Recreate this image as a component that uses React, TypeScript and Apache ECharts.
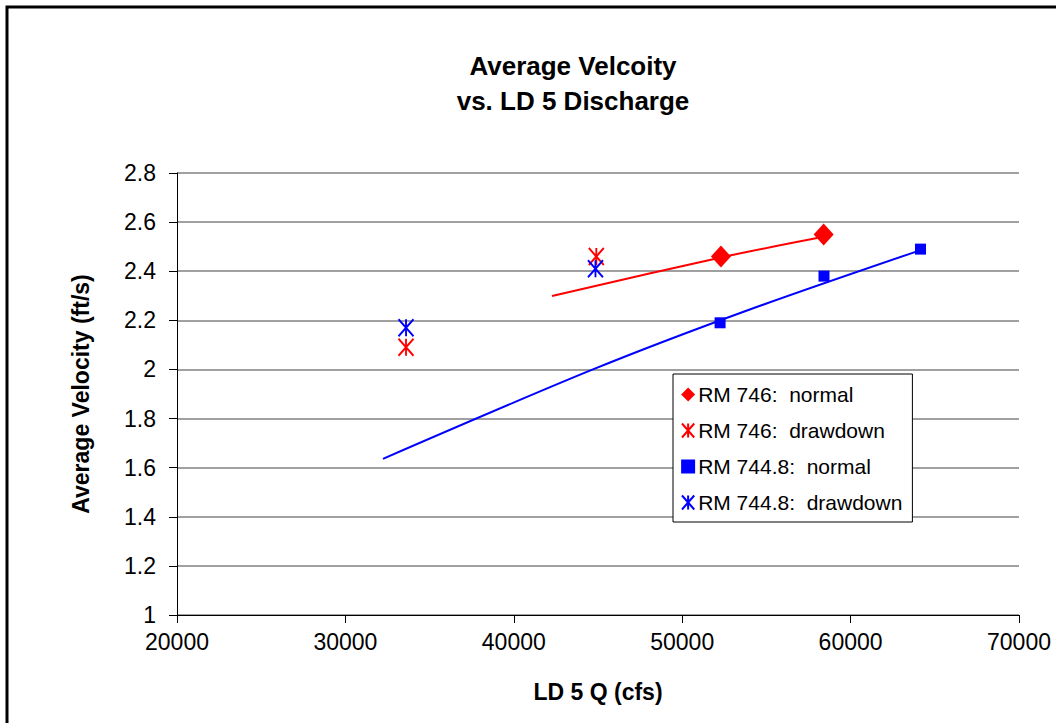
import React, { useEffect, useRef } from "react";
import * as echarts from "echarts";

// Discharge (cfs) and average velocity (ft/s) observations
const rm746NormalQ = [52300, 58400];
const rm746NormalV = [2.46, 2.55];
const rm746DrawdownQ = [33600, 44900];
const rm746DrawdownV = [2.09, 2.46];
const rm7448NormalQ = [52250, 58420, 64150];
const rm7448NormalV = [2.19, 2.38, 2.49];
const rm7448DrawdownQ = [33600, 44850];
const rm7448DrawdownV = [2.17, 2.41];

// Trend lines fitted to the normal-pool observations
const rm746TrendQ = [42270, 52360, 58400];
const rm746TrendV = [2.299, 2.457, 2.54];
const rm7448TrendQ = [32230, 44700, 53850, 63900];
const rm7448TrendV = [1.636, 2.0, 2.24, 2.48];

const xTicks = { min: 20000, max: 70000, interval: 10000 };
const yTicks = { min: 1, max: 2.8, interval: 0.2 };

const legendNames = [
  "RM 746:  normal",
  "RM 746:  drawdown",
  "RM 744.8:  normal",
  "RM 744.8:  drawdown",
];

const RED = "#ff0000";
const BLUE = "#0000ff";
const FONT = "'Liberation Sans', Arial, sans-serif";
const ASTERISK = "path://M0,0L14,16M14,0L0,16M7,0L7,16";

const pairs = (xs: number[], ys: number[]) => xs.map((x, i) => [x, ys[i]]);

export default function App() {
  const ref = useRef<HTMLDivElement>(null);

  useEffect(() => {
    if (!ref.current) return;
    const chart = echarts.init(ref.current, undefined, { renderer: "svg" });

    const trend = (name: string, data: number[][], color: string) => ({
      name,
      type: "line",
      data,
      showSymbol: false,
      symbol: "none",
      smooth: 0.3,
      lineStyle: { color, width: 2 },
      z: 1,
    });

    chart.setOption({
      animation: false,
      backgroundColor: "#ffffff",
      textStyle: { fontFamily: FONT },
      title: {
        text: "Average Velcoity\nvs. LD 5 Discharge",
        left: 568,
        top: 43,
        textAlign: "center",
        textStyle: {
          fontFamily: FONT,
          fontSize: 26,
          fontWeight: "bold",
          color: "#000",
          lineHeight: 35,
        },
      },
      graphic: [
        {
          type: "rect",
          shape: { x: 7, y: 7, width: 1200, height: 900 },
          style: { fill: "none", stroke: "#000", lineWidth: 3 },
          silent: true,
        },
      ],
      grid: { left: 177, top: 173, width: 842, height: 442, containLabel: false },
      xAxis: {
        type: "value",
        min: xTicks.min,
        max: xTicks.max,
        interval: xTicks.interval,
        name: "LD 5 Q (cfs)",
        nameLocation: "middle",
        nameGap: 65,
        nameTextStyle: { fontFamily: FONT, fontSize: 23, fontWeight: "bold", color: "#000" },
        axisLine: { show: true, lineStyle: { color: "#000", width: 1 } },
        axisTick: { show: true, length: 8, lineStyle: { color: "#000", width: 1 } },
        axisLabel: {
          fontFamily: FONT,
          fontSize: 23,
          color: "#000",
          margin: 15,
          formatter: (v: number) => String(v),
        },
        splitLine: { show: false },
      },
      yAxis: {
        type: "value",
        min: yTicks.min,
        max: yTicks.max,
        interval: yTicks.interval,
        name: "Average Velocity (ft/s)",
        nameLocation: "middle",
        nameGap: 85,
        nameRotate: 90,
        nameTextStyle: { fontFamily: FONT, fontSize: 23, fontWeight: "bold", color: "#000" },
        axisLine: { show: true, lineStyle: { color: "#000", width: 1 } },
        axisTick: { show: true, length: 8, lineStyle: { color: "#000", width: 1 } },
        axisLabel: { fontFamily: FONT, fontSize: 23, color: "#000", margin: 21 },
        splitLine: { show: true, lineStyle: { color: "#a0a0a0", width: 2 } },
      },
      legend: {
        data: legendNames,
        orient: "vertical",
        left: 673,
        top: 374,
        width: 238,
        padding: [10, 10, 9, 8],
        itemGap: 15,
        itemWidth: 14,
        itemHeight: 14,
        backgroundColor: "#fff",
        borderColor: "#000",
        borderWidth: 1,
        borderRadius: 0,
        textStyle: { fontFamily: FONT, fontSize: 21, color: "#000", padding: [0, 0, 0, -2] },
      },
      series: [
        trend("RM 746 trend", pairs(rm746TrendQ, rm746TrendV), RED),
        trend("RM 744.8 trend", pairs(rm7448TrendQ, rm7448TrendV), BLUE),
        {
          name: legendNames[0],
          type: "scatter",
          data: pairs(rm746NormalQ, rm746NormalV),
          symbol: "diamond",
          symbolSize: [20, 22],
          itemStyle: { color: RED, opacity: 1 },
          z: 3,
        },
        {
          name: legendNames[1],
          type: "scatter",
          data: pairs(rm746DrawdownQ, rm746DrawdownV),
          symbol: ASTERISK,
          symbolSize: [15, 17],
          itemStyle: { color: RED, borderColor: RED, borderWidth: 2, opacity: 1 },
          z: 3,
        },
        {
          name: legendNames[2],
          type: "scatter",
          data: pairs(rm7448NormalQ, rm7448NormalV),
          symbol: "rect",
          symbolSize: 11,
          itemStyle: { color: BLUE, opacity: 1 },
          z: 3,
        },
        {
          name: legendNames[3],
          type: "scatter",
          data: pairs(rm7448DrawdownQ, rm7448DrawdownV),
          symbol: ASTERISK,
          symbolSize: [15, 17],
          itemStyle: { color: BLUE, borderColor: BLUE, borderWidth: 2, opacity: 1 },
          z: 3,
        },
      ],
    });

    return () => chart.dispose();
  }, []);

  return (
    <div
      ref={ref}
      style={{ position: "absolute", left: 0, top: 0, width: 1056, height: 723 }}
    />
  );
}
